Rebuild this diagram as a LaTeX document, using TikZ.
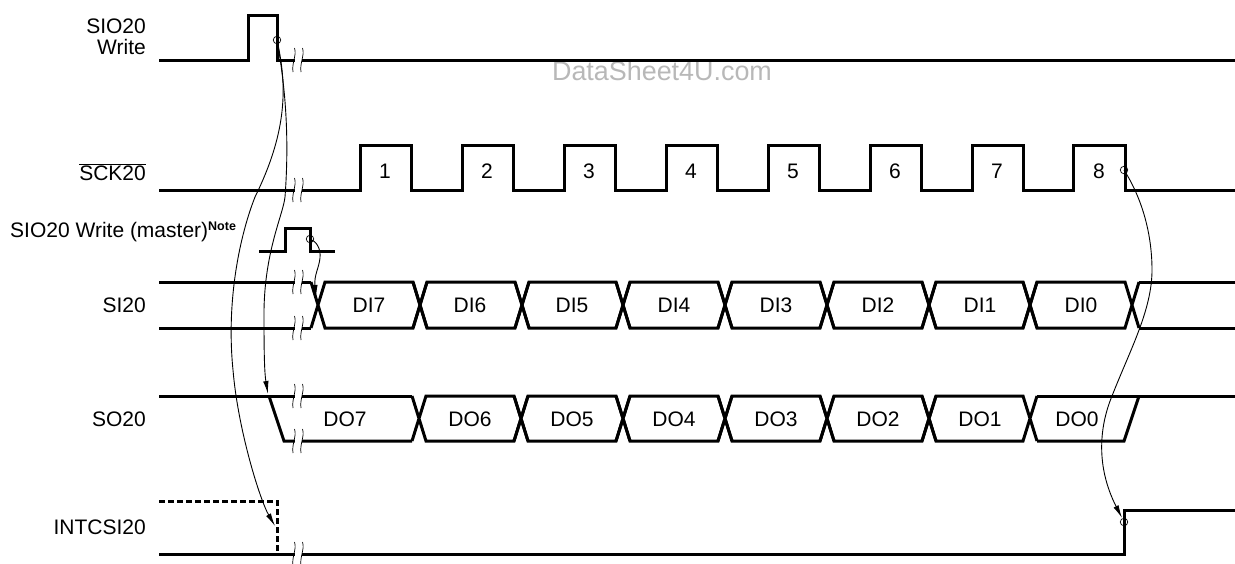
\documentclass[tikz,border=0pt]{standalone}
\usepackage{fontspec}
\setmainfont{Liberation Sans}
\usepackage{tikz}
\usetikzlibrary{arrows.meta}

\begin{document}
\begin{tikzpicture}[
      x=1pt, y=-1pt,
      sig/.style={line width=3pt, line join=miter},
      txt/.style={inner sep=0pt, font=\fontsize{21}{20.5}\selectfont},
      signame/.style={txt, anchor=east, align=right},
      dot/.style={circle, draw, inner sep=0pt, minimum size=7.5pt, line width=0.7pt},
      edge/.style={-{Latex[length=13pt, width=5.5pt]}, line width=0.9pt},
      pics/cut/.style={code={
        \fill[white] (-3.5,-4) rectangle (3.5,4);
        \draw[line width=0.7pt] (-3.5,-12) .. controls (-1,-5) and (-6.5,3) .. (-5,12);
        \draw[line width=0.7pt] (4.5,-12) .. controls (7,-5) and (1.5,3) .. (3,12);
      }}
    ]
    \useasboundingbox (0,0) rectangle (1235,563);
    % signal names
    \node[signame] (wr) at (146,37) {SIO20\\Write};
    \node[signame] (sck) at (146,172) {$\overline{\mbox{SCK20}}$};
    \node[txt, anchor=west] (mst) at (10,232) {SIO20 Write (master)\textsuperscript{\fontsize{12.5}{12.5}\selectfont\bfseries Note}};
    \node[signame] (si) at (146,305) {SI20};
    \node[signame] (so) at (146,419) {SO20};
    \node[signame] (int) at (146,527) {INTCSI20};
    \node[txt, text=black!28, font=\fontsize{26.9}{30}\selectfont] (ds) at (662,71) {DataSheet4U.com};

    % write pulse, clock
    \draw[sig] (159,60) -- (248,60) -- (248,15) -- (277,15) -- (277,60) -- (1235,60);
    \draw[sig] (159,190) -- (360,190) -- (360,145) -- (411,145) -- (411,190)
      -- (462,190) -- (462,145) -- (513,145) -- (513,190)
      -- (564,190) -- (564,145) -- (615,145) -- (615,190)
      -- (666,190) -- (666,145) -- (717,145) -- (717,190)
      -- (768,190) -- (768,145) -- (819,145) -- (819,190)
      -- (870,190) -- (870,145) -- (921,145) -- (921,190)
      -- (972,190) -- (972,145) -- (1023,145) -- (1023,190)
      -- (1073,190) -- (1073,145) -- (1125,145) -- (1125,190) -- (1235,190);
    \foreach \x/\n in {385/1,487/2,589/3,691/4,793/5,895/6,997/7,1099/8}
      \node[txt] (ck\n) at (\x,171) {\n};
    \draw[sig] (259,251) -- (285,251) -- (285,228) -- (310,228) -- (310,251) -- (335,251);

    % SI20
    \draw[sig] (159,282) -- (311,282);
    \draw[sig] (159,328) -- (311,328);
    \foreach \x/\y in {318/420,420/522,522/623,623/725,725/827,827/929,929/1030,1030/1132}
      \draw[sig] (\x-7,282) -- (\x+7,328) -- (\y-7,328) -- (\y+7,282)
        (\x-7,328) -- (\x+7,282) -- (\y-7,282) -- (\y+7,328);
    \draw[sig] (1139,282) -- (1235,282);
    \draw[sig] (1139,328) -- (1235,328);
    \foreach \x/\n in {369/7,470/6,572/5,674/4,776/3,878/2,980/1,1081/0}
      \node[txt] (di\n) at (\x,305) {DI\n};

    % SO20
    \draw[sig] (159,396) -- (412,396);
    \draw[sig] (269,396) -- (284,441) -- (412,441);
    \foreach \x/\y in {419/521,521/623,623/725,725/827,827/929,929/1030}
      \draw[sig] (\x-7,396) -- (\x+7,441) -- (\y-7,441) -- (\y+7,396)
        (\x-7,441) -- (\x+7,396) -- (\y-7,396) -- (\y+7,441);
    \draw[sig] (1037,396) -- (1235,396);
    \draw[sig] (1037,441) -- (1124,441) -- (1139,396);
    \foreach \x/\n in {345/7,470/6,572/5,674/4,776/3,878/2,980/1,1077/0}
      \node[txt] (do\n) at (\x,419) {DO\n};

    % INTCSI20
    \draw[sig] (159,554) -- (1124,554) -- (1124,510) -- (1235,510);
    \draw[sig, dash pattern=on 5.5pt off 3.5pt] (159,501) -- (277,501) -- (277,554);

    % breaks
    \foreach \y in {60,190,282,328,396,441,554}
      \pic at (298,\y) {cut};

    % events
    \node[dot] (wrf) at (277,40) {};
    \node[dot] (mstf) at (310,239) {};
    \node[dot] (ckf) at (1124,170) {};
    \node[dot] (intr) at (1124,522) {};
    \coordinate (sotip) at (268,394);
    \coordinate (inttip) at (275,526);
    \coordinate (sitip) at (316,298);
    \coordinate (intrtip) at (1122,518);
    \draw[edge] (wrf.center) .. controls (284,80) and (290,130) .. (285,197)
      .. controls (283,215) and (265,250) .. (264,310)
      .. controls (264,340) and (264,370) .. (sotip);
    \draw[edge] (wrf.center) .. controls (287,85) and (288,130) .. (255,197)
      .. controls (240,235) and (226,300) .. (233,370)
      .. controls (238,430) and (260,500) .. (inttip);
    \draw[edge] (mstf.center) .. controls (316,241) and (321,248) .. (320,258)
      .. controls (319,268) and (314,275) .. (sitip);
    \draw[edge] (ckf.center) .. controls (1140,195) and (1152,230) .. (1152,270)
      .. controls (1152,310) and (1130,350) .. (1112,396)
      .. controls (1100,425) and (1095,465) .. (intrtip);
    \end{tikzpicture}
\end{document}
